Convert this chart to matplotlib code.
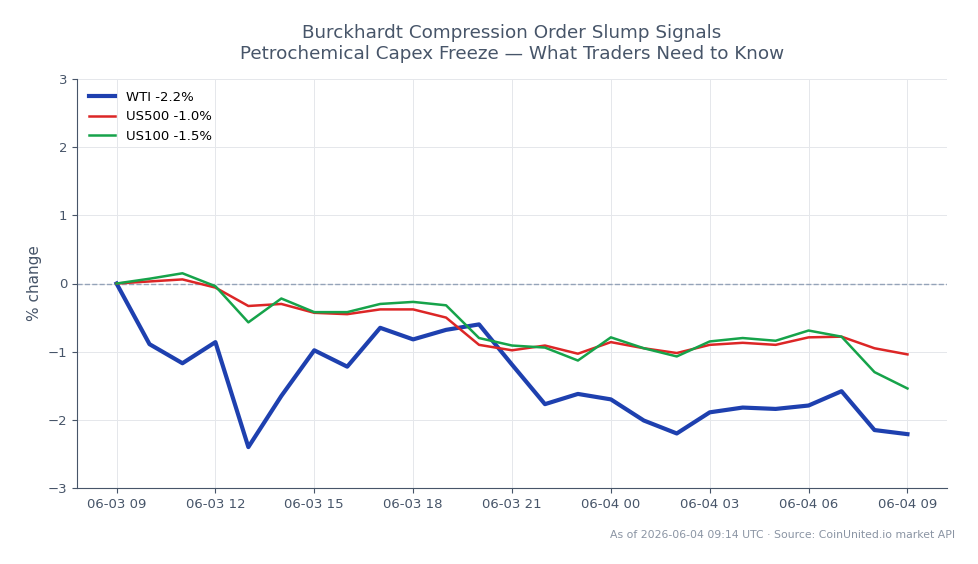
import numpy as np
import pandas as pd
import matplotlib
matplotlib.use('Agg')
import matplotlib.pyplot as plt
import matplotlib.dates as mdates

# hourly timestamps, 06-03 09:00 -> 06-04 09:00 UTC
times = pd.date_range('2026-06-03 09:00', '2026-06-04 09:00', freq='h')

wti = [0.0, -0.89, -1.17, -0.86, -2.40, -1.65, -0.98, -1.22, -0.65, -0.82,
       -0.68, -0.60, -1.19, -1.77, -1.62, -1.70, -2.01, -2.20, -1.89, -1.82,
       -1.84, -1.79, -1.58, -2.15, -2.21]
us500 = [0.0, 0.03, 0.06, -0.06, -0.33, -0.30, -0.43, -0.45, -0.38, -0.38,
         -0.50, -0.90, -0.98, -0.91, -1.03, -0.86, -0.95, -1.02, -0.90, -0.87,
         -0.90, -0.79, -0.78, -0.95, -1.04]
us100 = [0.0, 0.07, 0.15, -0.04, -0.57, -0.22, -0.42, -0.42, -0.30, -0.27,
         -0.32, -0.80, -0.91, -0.94, -1.13, -0.79, -0.95, -1.07, -0.85, -0.80,
         -0.84, -0.69, -0.78, -1.30, -1.54]

labels = ['WTI -2.2%', 'US500 -1.0%', 'US100 -1.5%']
colors = ['#1e40af', '#dc2626', '#16a34a']
widths = [3.0, 1.8, 1.8]

text_col = '#475569'
axis_col = '#475569'

fig = plt.figure(figsize=(9.79, 5.64), dpi=100)
ax = fig.add_axes([77 / 979, 1 - 488 / 564, 870 / 979, 409 / 564])

for vals, lab, c, lw in zip([wti, us500, us100], labels, colors, widths):
    ax.plot(times, vals, color=c, lw=lw, label=lab, zorder=3)

# zero reference line, above the grid
ax.axhline(0, color='#94a3b8', lw=1, ls='--', zorder=2)

ax.set_ylim(-3, 3)
ax.set_yticks([-3, -2, -1, 0, 1, 2, 3])
ax.set_ylabel('% change', color=text_col, fontsize=11)

ax.xaxis.set_major_locator(mdates.HourLocator(byhour=[0, 3, 6, 9, 12, 15, 18, 21]))
ax.xaxis.set_major_formatter(mdates.DateFormatter('%m-%d %H'))

ax.grid(True, color='#e5e7eb', lw=0.7)
ax.set_axisbelow(True)
for s in ['top', 'right']:
    ax.spines[s].set_visible(False)
for s in ['left', 'bottom']:
    ax.spines[s].set_color(axis_col)
ax.tick_params(colors=axis_col, labelsize=9.5, labelcolor=text_col)

ax.legend(loc='upper left', frameon=False, fontsize=9.5)

# title centred over the axes
ax.set_title('Burckhardt Compression Order Slump Signals\n'
             'Petrochemical Capex Freeze \u2014 What Traders Need to Know',
             color=text_col, fontsize=13.2, pad=14.5)

fig.text(0.976, 0.042, 'As of 2026-06-04 09:14 UTC \u00b7 Source: CoinUnited.io market API',
         ha='right', va='bottom', color='#8a94a3', fontsize=7.8)

fig.savefig('out.png', dpi=100)
